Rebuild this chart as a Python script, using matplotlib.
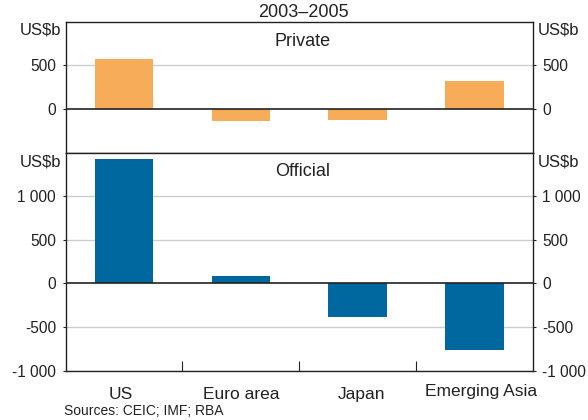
import matplotlib
matplotlib.use("Agg")
import matplotlib.pyplot as plt
import matplotlib.transforms as mtransforms
import numpy as np

plt.rcParams['font.family'] = ['Liberation Sans', 'DejaVu Sans']

categories = ["US", "Euro area", "Japan", "Emerging Asia"]
private = [577, -140, -128, 325]
official = [1428, 80, -382, -760]

top_ticks = [0, 500]
top_ticklabels = ["0", "500"]
bot_ticks = [-1000, -500, 0, 500, 1000]
bot_ticklabels = ["-1 000", "-500", "0", "500", "1 000"]
unit = "US$b"
subtitle = "2003–2005"
source = "Sources: CEIC; IMF; RBA"

orange = "#F7AC59"
blue = "#00679F"
grid_c = "#C9CED3"
dark = "#222222"

fig = plt.figure(figsize=(5.88, 4.2), dpi=100)
L, R = 65.7 / 588, 532.7 / 588
y_top = 1 - 21.7 / 420
y_mid = 1 - 152.6 / 420
y_bot = 1 - 370.7 / 420
ax1 = fig.add_axes([L, y_mid, R - L, y_top - y_mid])
ax2 = fig.add_axes([L, y_bot, R - L, y_mid - y_bot])

x = np.arange(len(categories))
fs = 11.2
fs_big = 12.5
cx = 303 / 588

def style(ax, ylim, ticks, labels, unit_y):
    ax.set_xlim(-0.5, len(categories) - 0.5)
    ax.set_ylim(*ylim)
    ax.set_yticks(ticks)
    ax.set_yticklabels(labels, fontsize=fs, color=dark)
    ax.tick_params(axis='y', which='both', left=True, right=True, labelleft=True,
                   labelright=True, length=2, width=0.8, color=dark, pad=5)
    for t in ticks:
        if t == 0:
            ax.axhline(0, color=dark, lw=1.2, zorder=3)
        else:
            ax.axhline(t, color=grid_c, lw=1.0, zorder=0)
    for s in ax.spines.values():
        s.set_color(dark)
        s.set_linewidth(1.0)
    ax.text(-0.01, unit_y, unit, transform=ax.transAxes, ha='right', va='center',
            fontsize=fs_big - 0.5, color=dark)
    ax.text(1.01, unit_y, unit, transform=ax.transAxes, ha='left', va='center',
            fontsize=fs_big - 0.5, color=dark)

ax1.bar(x, private, width=0.5, color=orange, zorder=2)
style(ax1, (-500, 1000), top_ticks, top_ticklabels, 1 - 8.5 / 130.9)
ax1.set_xticks([])
fig.text(cx, 1 - 41 / 420, "Private", ha='center', va='center',
         fontsize=fs_big + 0.5, color=dark)

ax2.bar(x, official, width=0.5, color=blue, zorder=2)
style(ax2, (-1000, 1500), bot_ticks, bot_ticklabels, 1 - 9 / 218.1)
ax2.set_xticks(x)
ax2.set_xticklabels(categories, fontsize=fs_big, color=dark)
ax2.set_xticks(x[:-1] + 0.5, minor=True)
ax2.tick_params(axis='x', which='major', length=0, pad=12)
ax2.tick_params(axis='x', which='minor', direction='in', length=7.5, width=0.8,
                color=dark, top=False)
fig.text(cx, 1 - 171 / 420, "Official", ha='center', va='center',
         fontsize=fs_big + 0.5, color=dark)

# small manual nudges of category labels as in the reference
nudges = [(-3, 0), (0, 0), (4, 0), (7, 3)]
for lab, (dx, dy) in zip(ax2.get_xticklabels(), nudges):
    off = mtransforms.ScaledTranslation(dx / 100, dy / 100, fig.dpi_scale_trans)
    lab.set_transform(lab.get_transform() + off)

fig.text(cx, 1 - 12.5 / 420, subtitle, ha='center', va='center',
         fontsize=fs_big + 0.5, color=dark)
fig.text(64.5 / 588, 1 - 411 / 420, source, ha='left', va='center',
         fontsize=10, color=dark)

fig.savefig("out.png", dpi=100)
